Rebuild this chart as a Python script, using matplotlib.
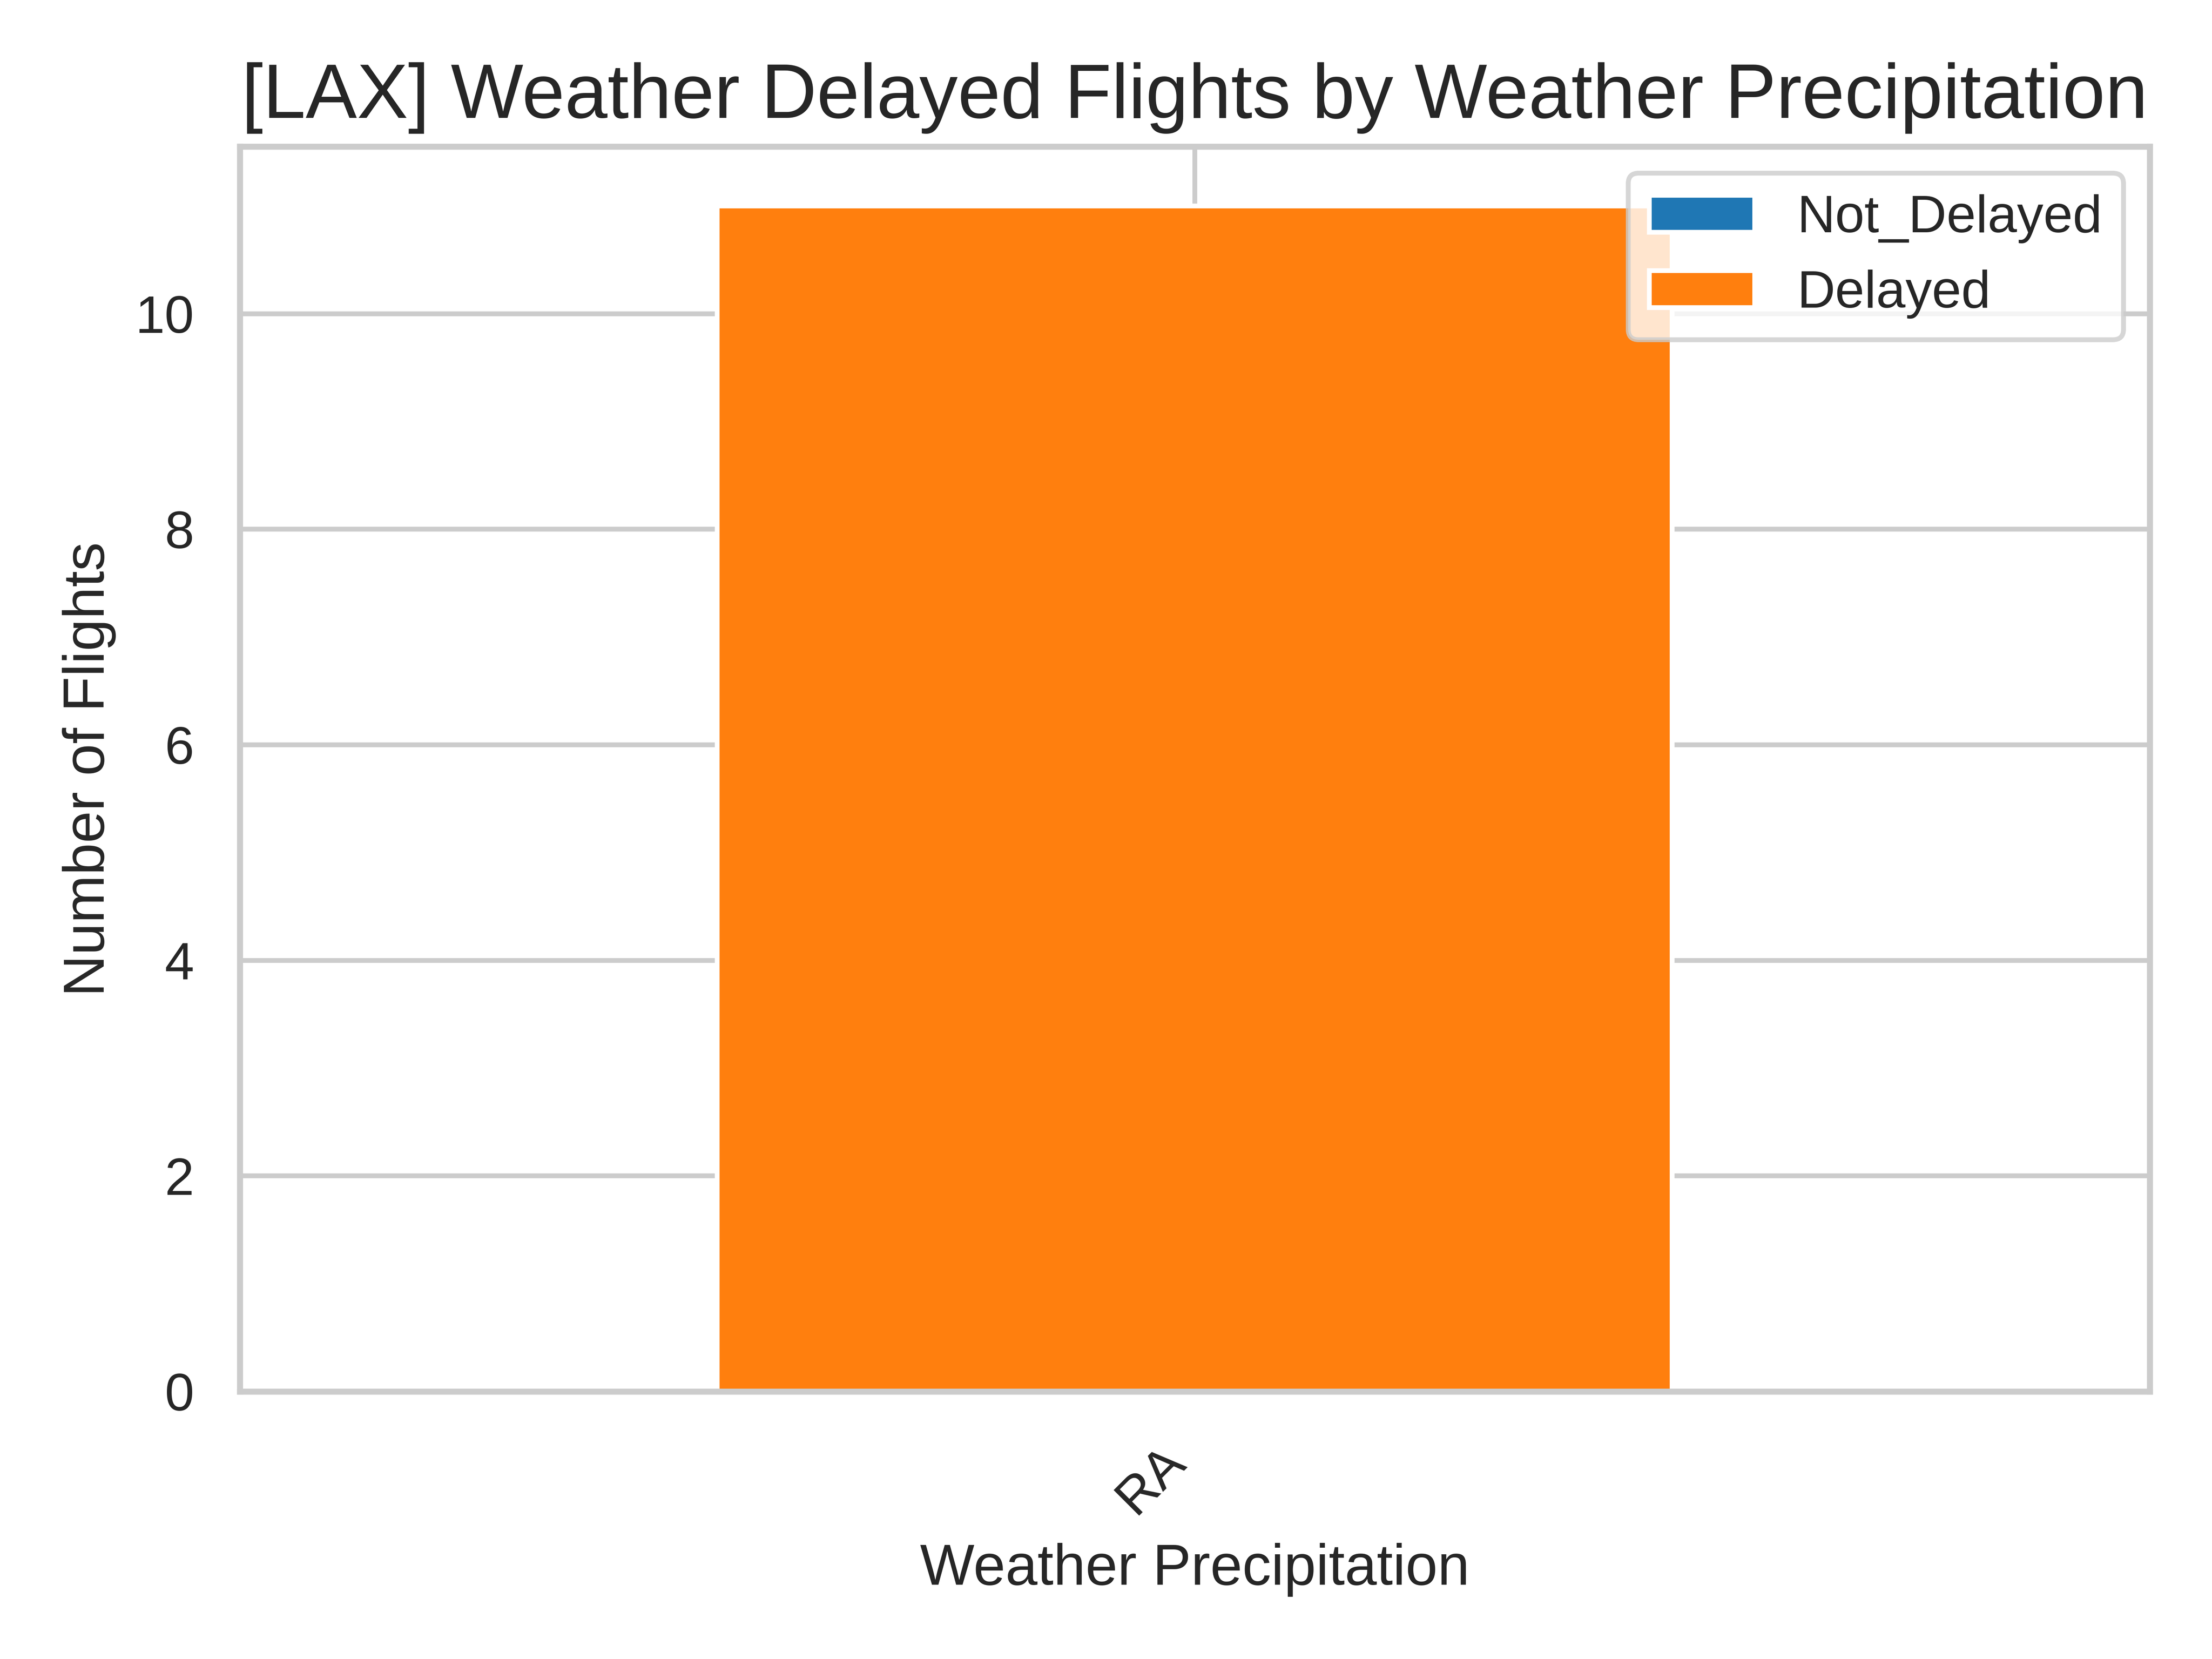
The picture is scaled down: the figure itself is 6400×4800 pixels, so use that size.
import matplotlib
matplotlib.use("Agg")
import matplotlib.pyplot as plt
import numpy as np
import seaborn as sns

sns.set_theme(style="whitegrid", context="notebook")
plt.rcParams["font.family"] = ["Liberation Sans", "DejaVu Sans"]

categories = ["RA"]
not_delayed = [0]
delayed = [11]
series_names = ["Not_Delayed", "Delayed"]
colors = ["#1f77b4", "#ff7f0e"]

fig, ax = plt.subplots(figsize=(6.4, 4.8), dpi=1000)
x = np.arange(len(categories))

ax.bar(x, not_delayed, width=0.5, color=colors[0], label=series_names[0],
       edgecolor="white", linewidth=1)
ax.bar(x, delayed, width=0.5, bottom=not_delayed, color=colors[1],
       label=series_names[1], edgecolor="white", linewidth=1)

ax.set_xlim(-0.5, len(categories) - 0.5)
ax.set_xticks(x)
ax.set_xticklabels(categories, rotation=45, ha="right")
ax.set_title("[LAX] Weather Delayed Flights by Weather Precipitation", fontsize=16)
ax.set_xlabel("Weather Precipitation")
ax.set_ylabel("Number of Flights")
ax.legend(loc="upper right")

fig.tight_layout()
fig.savefig("out.png", dpi=1000)
